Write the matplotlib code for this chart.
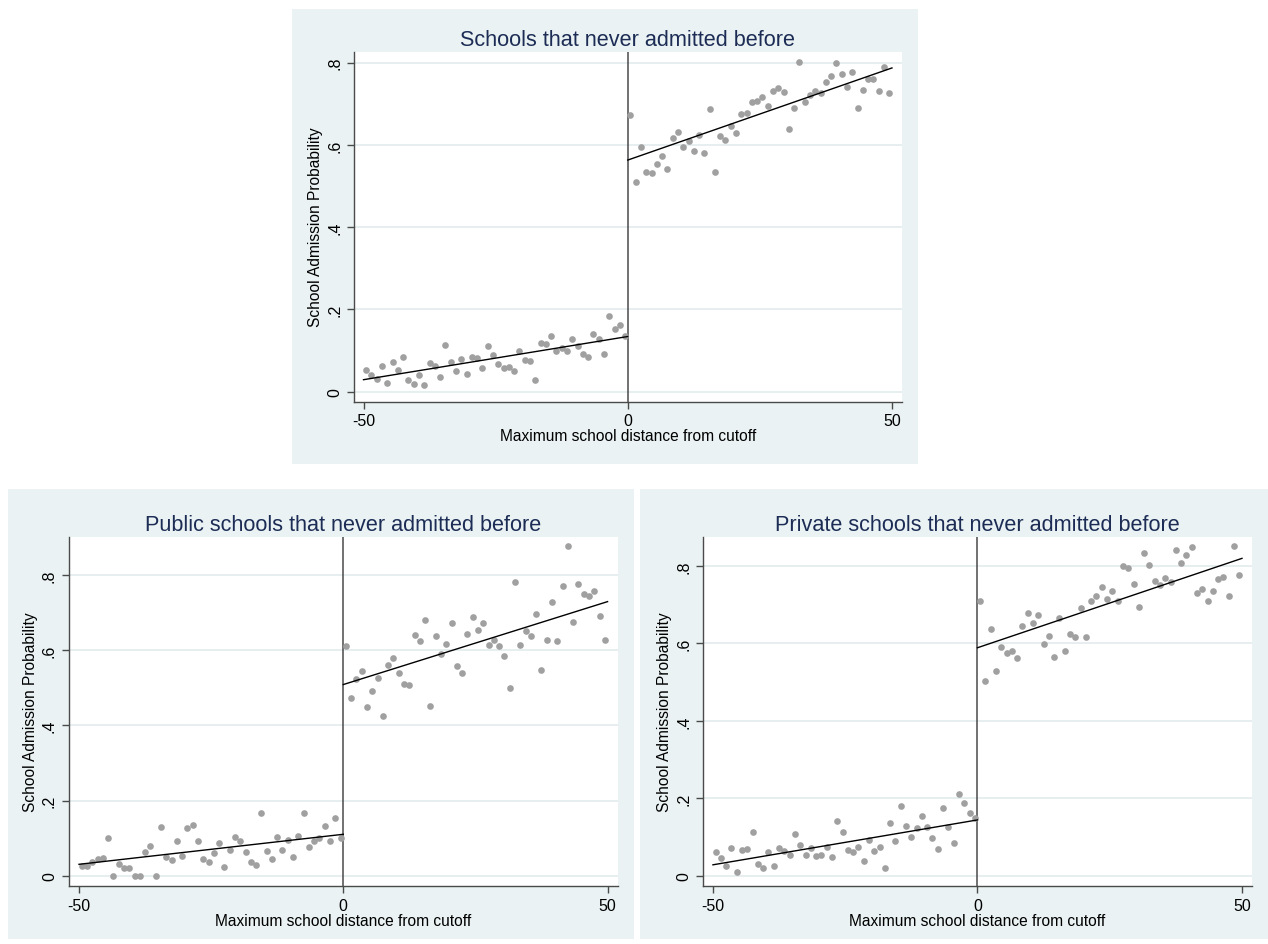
import numpy as np
from matplotlib import pyplot as plt
from matplotlib.patches import Rectangle

plt.rcParams['font.family'] = ['Liberation Sans', 'DejaVu Sans']

# bin centres of the running variable (one bin per unit)
x_left = np.arange(-49.5, 0, 1.0)
x_right = np.arange(0.5, 50, 1.0)

# all schools that never admitted before
all_left = [0.052, 0.041, 0.030, 0.062, 0.022, 0.071, 0.053, 0.085, 0.029, 0.019,
            0.040, 0.016, 0.070, 0.063, 0.036, 0.114, 0.071, 0.051, 0.079, 0.044,
            0.083, 0.081, 0.058, 0.112, 0.088, 0.066, 0.058, 0.061, 0.049, 0.098,
            0.078, 0.074, 0.028, 0.118, 0.115, 0.136, 0.099, 0.105, 0.099, 0.127,
            0.112, 0.092, 0.083, 0.139, 0.127, 0.092, 0.184, 0.153, 0.162, 0.136]
all_right = [0.673, 0.509, 0.596, 0.535, 0.531, 0.554, 0.573, 0.542, 0.617, 0.632,
             0.595, 0.609, 0.584, 0.624, 0.580, 0.688, 0.535, 0.622, 0.613, 0.647,
             0.630, 0.674, 0.677, 0.704, 0.706, 0.717, 0.695, 0.731, 0.739, 0.728,
             0.639, 0.690, 0.802, 0.703, 0.722, 0.732, 0.725, 0.752, 0.767, 0.800,
             0.772, 0.741, 0.778, 0.690, 0.734, 0.759, 0.759, 0.732, 0.789, 0.726]
all_fit_left = [0.029, 0.134]
all_fit_right = [0.563, 0.787]

# public schools
pub_left = [0.026, 0.026, 0.037, 0.044, 0.048, 0.099, 0.000, 0.032, 0.020, 0.020,
            0.000, 0.000, 0.064, 0.079, 0.000, 0.130, 0.049, 0.042, 0.091, 0.051,
            0.128, 0.136, 0.093, 0.045, 0.037, 0.061, 0.087, 0.024, 0.069, 0.104,
            0.091, 0.062, 0.036, 0.029, 0.167, 0.066, 0.045, 0.104, 0.067, 0.094,
            0.050, 0.105, 0.167, 0.075, 0.093, 0.099, 0.133, 0.093, 0.154, 0.101]
pub_right = [0.611, 0.472, 0.523, 0.544, 0.448, 0.491, 0.526, 0.425, 0.560, 0.581,
             0.541, 0.511, 0.509, 0.641, 0.625, 0.680, 0.451, 0.639, 0.590, 0.616,
             0.674, 0.558, 0.539, 0.645, 0.688, 0.654, 0.674, 0.614, 0.628, 0.613,
             0.586, 0.500, 0.783, 0.614, 0.653, 0.638, 0.698, 0.549, 0.629, 0.730,
             0.625, 0.772, 0.879, 0.676, 0.778, 0.750, 0.744, 0.759, 0.693, 0.628]
pub_fit_left = [0.030, 0.110]
pub_fit_right = [0.509, 0.730]

# private schools
priv_left = [0.062, 0.046, 0.024, 0.071, 0.010, 0.067, 0.068, 0.114, 0.031, 0.019,
             0.060, 0.025, 0.072, 0.063, 0.053, 0.107, 0.080, 0.054, 0.071, 0.050,
             0.054, 0.073, 0.047, 0.140, 0.113, 0.067, 0.062, 0.073, 0.039, 0.092,
             0.063, 0.074, 0.021, 0.137, 0.089, 0.179, 0.129, 0.101, 0.122, 0.153,
             0.126, 0.096, 0.069, 0.175, 0.126, 0.084, 0.210, 0.188, 0.161, 0.149]
priv_right = [0.710, 0.504, 0.638, 0.530, 0.590, 0.575, 0.581, 0.562, 0.645, 0.680,
              0.654, 0.673, 0.599, 0.619, 0.565, 0.667, 0.580, 0.624, 0.617, 0.691,
              0.616, 0.710, 0.724, 0.747, 0.716, 0.736, 0.710, 0.801, 0.795, 0.755,
              0.694, 0.835, 0.804, 0.761, 0.751, 0.768, 0.760, 0.842, 0.807, 0.828,
              0.849, 0.730, 0.742, 0.710, 0.735, 0.766, 0.773, 0.723, 0.853, 0.778]
priv_fit_left = [0.028, 0.144]
priv_fit_right = [0.589, 0.820]

y_ticks = [0, 0.2, 0.4, 0.6, 0.8]
y_ticklabels = ["0", ".2", ".4", ".6", ".8"]
x_ticks = [-50, 0, 50]

W, H = 1268, 945
bg = "#EAF2F3"
title_col = "#1C2C55"
dot_col = "#A0A0A0"
axis_col = "#4A4A4A"

fig = plt.figure(figsize=(W / 100, H / 100), dpi=100)


def px_box(x0, y0, x1, y1):
    # pixel box (top-left origin) -> figure fraction [left, bottom, width, height]
    return [x0 / W, 1 - y1 / H, (x1 - x0) / W, (y1 - y0) / H]


def panel(box, axbox, title, left, right, fit_l, fit_r, ylim, xlim):
    b = px_box(*box)
    fig.add_artist(Rectangle((b[0], b[1]), b[2], b[3], transform=fig.transFigure,
                             facecolor=bg, edgecolor="none", zorder=0))
    ax = fig.add_axes(px_box(*axbox))
    ax.set_facecolor("white")
    for y in y_ticks:
        ax.axhline(y, color="#E4EDEF", lw=1.3, zorder=1)
    ax.axvline(0, color=axis_col, lw=1.1, zorder=2)
    ax.plot(x_left, left, "o", color=dot_col, markersize=4.8, markeredgewidth=0, zorder=3)
    ax.plot(x_right, right, "o", color=dot_col, markersize=4.8, markeredgewidth=0, zorder=3)
    ax.plot([-50, 0], fit_l, "-", color="black", lw=1.0, zorder=4)
    ax.plot([0, 50], fit_r, "-", color="black", lw=1.0, zorder=4)

    ax.set_xlim(*xlim)
    ax.set_ylim(*ylim)
    ax.set_xticks(x_ticks)
    ax.set_xticklabels(["-50", "0", "50"])
    ax.set_yticks(y_ticks)
    ax.set_yticklabels(y_ticklabels, rotation=90, va="center")
    ax.tick_params(colors=axis_col, labelcolor="black", labelsize=11.5, length=5, width=1.0)
    for s in ["top", "right"]:
        ax.spines[s].set_visible(False)
    for s in ["left", "bottom"]:
        ax.spines[s].set_color(axis_col)
        ax.spines[s].set_linewidth(1.0)
    ax.set_xlabel("Maximum school distance from cutoff", fontsize=11.2, labelpad=0)
    ax.set_ylabel("School Admission Probability", fontsize=11.2, labelpad=3)
    ax.set_title(title, fontsize=15.6, color=title_col, pad=5)
    return ax


panel((292, 10, 918, 465), (354, 52.5, 902, 402.5), "Schools that never admitted before",
      all_left, all_right, all_fit_left, all_fit_right, (-0.024, 0.827), (-51.8, 51.9))
panel((8, 490, 634, 940), (68.7, 537.7, 617.6, 886.7), "Public schools that never admitted before",
      pub_left, pub_right, pub_fit_left, pub_fit_right, (-0.027, 0.903), (-51.95, 51.9))
panel((640, 490, 1268, 940), (702.9, 537.7, 1251.5, 886.7), "Private schools that never admitted before",
      priv_left, priv_right, priv_fit_left, priv_fit_right, (-0.026, 0.876), (-51.9, 51.8))

plt.savefig("out.png", dpi=100)
